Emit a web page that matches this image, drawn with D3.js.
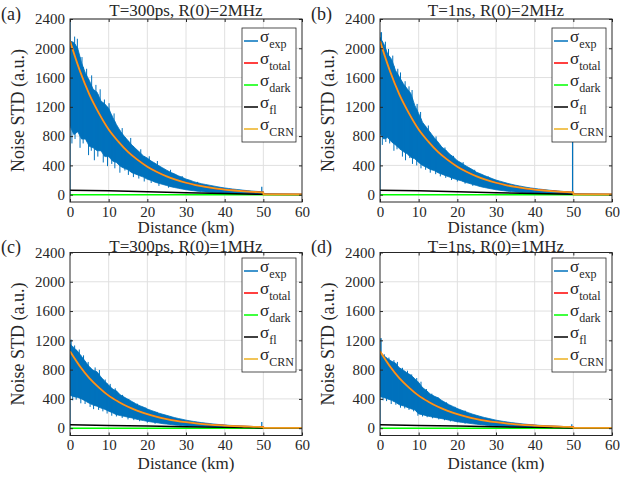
<!DOCTYPE html>
<html>
<head>
<meta charset="utf-8">
<script src="https://cdn.jsdelivr.net/npm/d3@7/dist/d3.min.js"></script>
<style>
  body { margin: 0; background: #fff; }
  text { font-family: "Liberation Serif", "Times New Roman", serif; fill: #262626; }
</style>
</head>
<body>
<svg id="chart" width="620" height="479"></svg>
<script>
// distance grid (km) of the measured noise envelope
const distKm = [0,1,2,3,4,5,6,7,8,9,10,11,12,13,14,15,16,17,18,19,20,21,22,23,24,25,
  26,27,28,29,30,31,32,33,34,35,36,37,38,39,40,41,42,43,44,45,46,47,48,49,50];

// sigma_exp upper / lower envelope
const expHiA = [2100,2080,2000,1800,1660,1560,1440,1400,1280,1240,1180,1060,960,870,800,740,680,630,580,530,
  500,460,430,395,365,335,305,285,258,238,213,198,178,163,150,140,130,120,110,100,92,85,78,72,66,60,55,50,46,42,40];
const expLoA = [940,820,860,760,760,660,640,600,600,520,520,460,440,390,360,340,300,280,260,240,
  210,195,170,155,140,125,110,98,88,78,68,60,54,48,42,37,33,29,26,23,21,19,17,15,13,12,11,10,9,8,8];
const expHiB = [2150,2060,1920,1850,1700,1610,1520,1450,1380,1220,1110,990,920,850,780,720,650,610,555,515,
  465,435,400,370,340,305,285,262,240,220,200,185,170,155,142,130,120,110,100,92,85,78,72,66,60,55,50,46,42,38,35];
const expLoB = [840,760,780,720,680,630,590,560,510,490,440,400,375,345,330,300,280,260,240,220,
  205,190,170,155,140,125,110,98,88,78,68,60,54,48,42,37,33,29,26,23,21,19,17,15,13,12,11,10,9,8,8];
const expHiC = [1150,1100,1050,980,910,840,790,770,700,640,590,535,510,455,425,395,365,335,308,288,
  262,243,224,205,190,175,160,145,133,122,110,100,92,84,76,70,64,58,53,48,44,40,37,34,31,28,26,24,22,20,18];
const expLoC = [450,430,420,400,370,340,315,300,275,258,232,210,185,172,162,150,140,125,114,104,
  94,85,78,70,62,56,50,44,39,35,31,28,25,22,20,18,16,14,13,12,11,10,9,8,7,6,6,5,5,4,4];
const expHiD = [1040,990,950,915,890,825,795,755,725,675,625,555,515,468,438,415,378,348,318,294,
  268,248,228,209,191,175,160,146,134,122,110,100,92,84,76,70,64,58,53,48,44,40,37,34,31,28,26,24,22,20,18];
const expLoD = [430,420,400,380,355,320,305,285,265,250,195,185,170,158,148,140,130,120,108,98,
  88,80,74,67,60,54,48,43,38,34,30,27,24,21,19,17,15,13,12,11,10,9,8,7,6,6,5,5,4,4,4];

// single-sample excursions of sigma_exp: [distance, value]
const upA = [[1.2,2160],[1.9,2130],[3.1,1880],[4.3,1720],[5.6,1630],[6.7,1500],[7.8,1440],[8.9,1300],[10.1,1250],
  [11.4,1110],[13.5,910],[15.7,775],[18.3,620],[20.5,525],[22.6,460],[26,340],[29,255],[33,175]];
const downA = [[0.5,700],[1.3,760],[2.6,640],[3.4,700],[4.8,540],[5.5,600],[6.3,470],[7.2,520],[8.6,440],[9.7,390],
  [10.8,420],[11.6,360],[12.9,300],[14.2,330],[15.1,270],[16.4,240],[17.8,220],[19.2,180],[21,160],[23,120],[25.5,95]];
const upB = [[0.4,2220],[1.4,2090],[2.2,1990],[3.3,1900],[4.6,1720],[5.3,1670],[6.5,1550],[7.5,1480],[8.3,1430],
  [9.6,1240],[10.5,1130],[12.5,945],[14.5,795],[16.8,645],[19,530],[21.5,445],[24.5,340],[28,250]];
const downB = [[0.6,680],[1.5,720],[2.5,700],[3.6,600],[4.4,620],[5.8,520],[6.6,470],[7.7,500],[8.4,420],[9.5,400],
  [10.6,360],[11.8,340],[13,300],[14.4,280],[15.6,250],[17,230],[18.5,200],[20,180],[22,150],[24,120]];
const upC = [[0.3,1210],[1.2,1130],[2.4,1075],[3.5,995],[4.7,905],[6.5,830],[7.6,795],[9.1,665],[10.4,605],
  [11.7,545],[13.6,455],[15.2,400],[17.4,335],[19.6,282],[22.5,222],[26,162]];
const downC = [[0.7,380],[1.6,390],[2.8,340],[3.9,330],[5.2,290],[6.1,260],[7.4,250],[8.5,230],[9.6,200],
  [10.8,170],[12,160],[13.5,140],[15,120],[16.5,110],[18,95],[20,75],[22,60]];
const upD = [[0.3,1230],[1.1,1010],[2.3,965],[3.6,930],[4.5,905],[5.8,825],[7.1,785],[8.2,735],[9.5,685],
  [10.6,635],[12,535],[13.4,472],[15,422],[17.2,352],[19.4,292],[22,240],[26,162]];
const downD = [[0.8,380],[1.7,370],[2.9,330],[4.1,320],[5.3,280],[6.4,270],[7.5,250],[8.7,230],[9.8,170],
  [11,160],[12.2,150],[13.6,135],[15.2,120],[16.7,108],[18.2,92],[20,80],[22,62]];

// isolated spikes of sigma_exp rising from zero: [distance, value]
const spikesA = [[0, 2400], [49.6, 110]];
const spikesB = [[0, 2220], [49.8, 790]];
const spikesC = [[0, 1200], [49.6, 85]];
const spikesD = [[0, 1230], [49.6, 55]];

// model curves
const crnKm = [0,2.5,5,7.5,10,12.5,15,17.5,20,22.5,25,27.5,30,32.5,35,37.5,40,42.5,45,47.5,50,50.01,60];
const crn2MHz = [2100,1700,1370,1110,890,725,585,475,382,310,250,202,163,132,107,86,70,57,46,37,30,3,3];
const crn1MHz = [1050,850,685,555,445,362,292,237,191,155,125,101,82,66,53,43,35,28,23,18,15,3,3];
const flKm = [0,10,20,30,40,50,60];
const fl2MHz = [62,52,40,26,15,5,2];
const fl1MHz = [46,38,30,20,11,4,2];
const darkKm = [0,60];
const darkVal = [0,0];

const xTicks = [0,10,20,30,40,50,60];
const yTicks = [0,400,800,1200,1600,2000,2400];

const legendNames = [["σ","exp"],["σ","total"],["σ","dark"],["σ","fl"],["σ","CRN"]];
const colors = { exp: "#0072BD", total: "#FF0000", dark: "#00FF00", fl: "#000000", crn: "#F29B1D" };

const panels = [
  { tag: "(a)", title: "T=300ps, R(0)=2MHz", left: 70, top: 19, titleY: -3, xlabY: 31, hi: expHiA, lo: expLoA, up: upA, down: downA, spikes: spikesA, crn: crn2MHz, fl: fl2MHz, legTop: 9 },
  { tag: "(b)", title: "T=1ns, R(0)=2MHz", left: 380, top: 19, titleY: -3, xlabY: 31, hi: expHiB, lo: expLoB, up: upB, down: downB, spikes: spikesB, crn: crn2MHz, fl: fl2MHz, legTop: 9 },
  { tag: "(c)", title: "T=300ps, R(0)=1MHz", left: 70, top: 252.5, titleY: -1, xlabY: 33, hi: expHiC, lo: expLoC, up: upC, down: downC, spikes: spikesC, crn: crn1MHz, fl: fl1MHz, legTop: 5.5 },
  { tag: "(d)", title: "T=1ns, R(0)=1MHz", left: 380, top: 252.5, titleY: -1, xlabY: 33, hi: expHiD, lo: expLoD, up: upD, down: downD, spikes: spikesD, crn: crn1MHz, fl: fl1MHz, legTop: 5.5 },
];

const W = 232, H = 183;
const svg = d3.select("#chart");
svg.append("rect").attr("width", 620).attr("height", 479).attr("fill", "#fff");

const x = d3.scaleLinear().domain([0, 60]).range([0, W]);
const y = d3.scaleLinear().domain([-100, 2400]).range([H, 0]);

const line = d3.line().x(d => x(d[0])).y(d => y(d[1]));
const zip = (a, b) => a.map((v, i) => [v, b[i]]);

panels.forEach((p, pi) => {
  const g = svg.append("g").attr("transform", `translate(${p.left},${p.top})`);

  g.append("rect").attr("width", W).attr("height", H).attr("fill", "#fff");

  // grid
  g.append("g").selectAll("line").data(xTicks.slice(1, -1)).join("line")
    .attr("x1", d => x(d)).attr("x2", d => x(d)).attr("y1", 0).attr("y2", H)
    .attr("stroke", "#e0e0e0").attr("stroke-width", 1);
  g.append("g").selectAll("line").data(yTicks).join("line")
    .attr("x1", 0).attr("x2", W).attr("y1", d => y(d)).attr("y2", d => y(d))
    .attr("stroke", "#e0e0e0").attr("stroke-width", 1);

  const clipId = "clip" + pi;
  g.append("clipPath").attr("id", clipId).append("rect").attr("width", W).attr("height", H);
  const plot = g.append("g").attr("clip-path", `url(#${clipId})`);

  // sigma_exp band
  const band = distKm.map((d, i) => ({ d, hi: p.hi[i], lo: p.lo[i] }));
  const hiAt = d3.scaleLinear().domain(distKm).range(p.hi);
  const loAt = d3.scaleLinear().domain(distKm).range(p.lo);
  plot.append("path").datum(band)
    .attr("d", d3.area().x(d => x(d.d)).y0(d => y(d.lo)).y1(d => y(d.hi)))
    .attr("fill", colors.exp).attr("stroke", colors.exp).attr("stroke-width", 0.8);
  plot.append("g").selectAll("line").data(p.up).join("line")
    .attr("x1", d => x(d[0])).attr("x2", d => x(d[0]))
    .attr("y1", d => y(loAt(d[0]))).attr("y2", d => y(d[1]))
    .attr("stroke", colors.exp).attr("stroke-width", 1);
  plot.append("g").selectAll("line").data(p.down).join("line")
    .attr("x1", d => x(d[0])).attr("x2", d => x(d[0]))
    .attr("y1", d => y(hiAt(d[0]))).attr("y2", d => y(d[1]))
    .attr("stroke", colors.exp).attr("stroke-width", 1);
  plot.append("g").selectAll("line").data(p.spikes).join("line")
    .attr("x1", d => x(d[0])).attr("x2", d => x(d[0]))
    .attr("y1", y(0)).attr("y2", d => y(d[1]))
    .attr("stroke", colors.exp).attr("stroke-width", 1.2);
  plot.append("path").datum([[50, 2], [60, 2]]).attr("d", line)
    .attr("fill", "none").attr("stroke", colors.exp).attr("stroke-width", 1);

  // model curves
  plot.append("path").datum(zip(crnKm, p.crn)).attr("d", line)
    .attr("fill", "none").attr("stroke", colors.total).attr("stroke-width", 1.5);
  plot.append("path").datum(zip(darkKm, darkVal)).attr("d", line)
    .attr("fill", "none").attr("stroke", colors.dark).attr("stroke-width", 1.5);
  plot.append("path").datum(zip(flKm, p.fl)).attr("d", line)
    .attr("fill", "none").attr("stroke", colors.fl).attr("stroke-width", 1.5);
  plot.append("path").datum(zip(crnKm, p.crn)).attr("d", d3.line().x(d => x(d[0])).y(d => y(d[1])).curve(d3.curveMonotoneX))
    .attr("fill", "none").attr("stroke", colors.crn).attr("stroke-width", 1.8);

  // axes box with inward ticks on all sides
  const tk = 3;
  const fmt = d3.format("d");
  g.append("g").attr("transform", `translate(0,${H})`)
    .call(d3.axisBottom(x).tickValues(xTicks).tickFormat(fmt).tickSizeInner(-tk).tickSizeOuter(0).tickPadding(4))
    .call(a => a.selectAll("text").attr("font-size", 15));
  g.append("g")
    .call(d3.axisTop(x).tickValues(xTicks).tickSizeInner(-tk).tickSizeOuter(0).tickFormat(""));
  g.append("g")
    .call(d3.axisLeft(y).tickValues(yTicks).tickFormat(fmt).tickSizeInner(-tk).tickSizeOuter(0).tickPadding(5))
    .call(a => a.selectAll("text").attr("font-size", 15));
  g.append("g").attr("transform", `translate(${W},0)`)
    .call(d3.axisRight(y).tickValues(yTicks).tickSizeInner(-tk).tickSizeOuter(0).tickFormat(""));
  g.selectAll("g").attr("font-family", null);
  g.selectAll(".domain").remove();
  g.selectAll(".tick line").attr("stroke", "#262626");
  g.selectAll(".tick text").attr("fill", "#262626");
  g.append("rect").attr("width", W).attr("height", H)
    .attr("fill", "none").attr("stroke", "#262626").attr("stroke-width", 1);

  // labels
  g.append("text").attr("x", W / 2).attr("y", p.titleY).attr("text-anchor", "middle")
    .attr("font-size", 17).text(p.title);
  svg.append("text").attr("x", p.left - 69).attr("y", p.top + 0.5).attr("font-size", 18).text(p.tag);
  g.append("text").attr("x", W / 2).attr("y", H + p.xlabY).attr("text-anchor", "middle")
    .attr("font-size", 17).text("Distance (km)");
  g.append("text").attr("transform", `translate(-46,${H / 2}) rotate(-90)`)
    .attr("text-anchor", "middle").attr("font-size", 18).text("Noise STD (a.u.)");

  // legend
  const leg = g.append("g").attr("transform", `translate(172,${p.legTop})`);
  leg.append("rect").attr("width", 54).attr("height", 114)
    .attr("fill", "#fff").attr("stroke", "#262626").attr("stroke-width", 0.8);
  const legCols = [colors.exp, colors.total, colors.dark, colors.fl, "#EDB120"];
  legendNames.forEach((n, i) => {
    const ly = 13 + i * 22;
    leg.append("line").attr("x1", 2).attr("x2", 16).attr("y1", ly).attr("y2", ly)
      .attr("stroke", legCols[i]).attr("stroke-width", 1.5);
    const t = leg.append("text").attr("x", 18).attr("y", ly + 1).attr("font-size", 17);
    t.append("tspan").text(n[0]);
    t.append("tspan").attr("dy", 6).attr("font-size", 12).text(n[1]);
  });
});
</script>
</body>
</html>
